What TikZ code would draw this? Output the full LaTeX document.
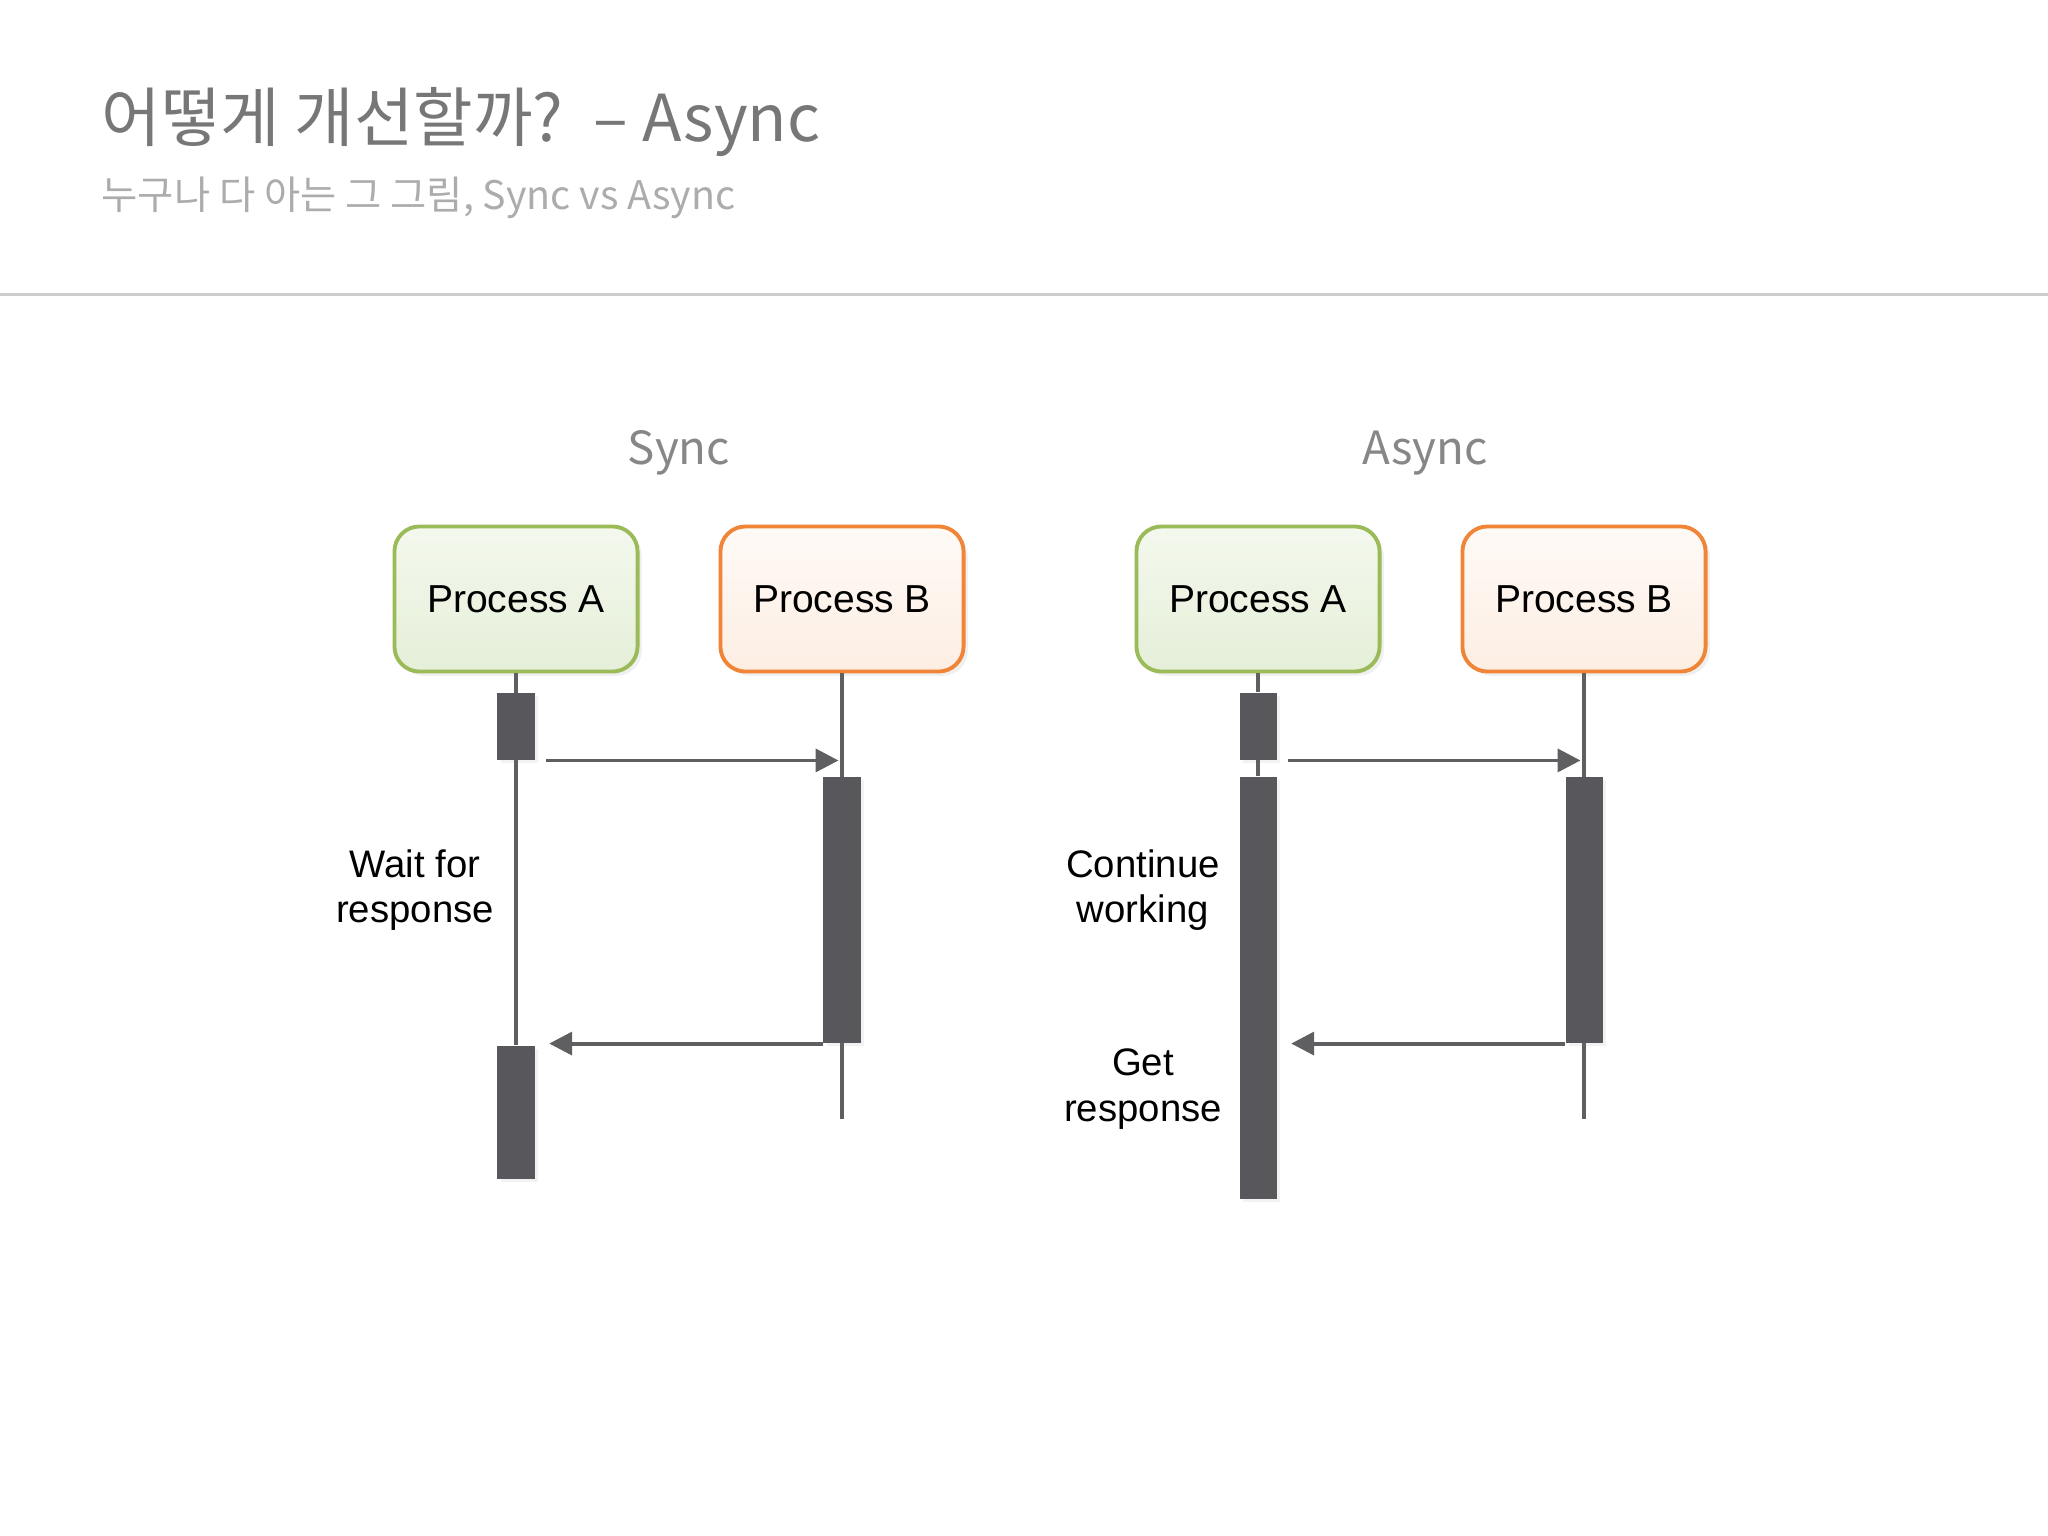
\documentclass[tikz,border=0pt]{standalone}
\usepackage{fontspec}
\setmainfont{Liberation Sans}
\newfontfamily\krfont{Noto Sans CJK KR}
\usetikzlibrary{positioning, arrows.meta, shadows}
\definecolor{cTitle}{RGB}{119,119,119}
\definecolor{cSub}{RGB}{172,172,172}
\definecolor{cHead}{RGB}{135,135,135}
\definecolor{cRule}{RGB}{204,204,204}
\definecolor{cGreen}{RGB}{155,187,89}
\definecolor{cGreenT}{RGB}{244,248,238}
\definecolor{cGreenB}{RGB}{229,239,216}
\definecolor{cOrange}{RGB}{240,133,55}
\definecolor{cOrangeT}{RGB}{254,250,246}
\definecolor{cOrangeB}{RGB}{253,238,227}
\definecolor{cBar}{RGB}{88,87,92}
\definecolor{cLine}{RGB}{95,95,98}

\begin{document}
\begin{tikzpicture}[x=0.01cm, y=-0.01cm,
    proc/.style={rounded corners=0.25cm, line width=1.1pt, minimum width=2.43cm,
                 minimum height=1.45cm, font=\fontsize{11.1}{13}\selectfont,
                 drop shadow={opacity=0.12, shadow xshift=1.2pt, shadow yshift=-1.2pt}},
    procA/.style={proc, draw=cGreen, top color=cGreenT, bottom color=cGreenB},
    procB/.style={proc, draw=cOrange, top color=cOrangeT, bottom color=cOrangeB},
    act/.style={fill=cBar, draw=none, minimum width=0.37cm, inner sep=0pt, anchor=north,
                drop shadow={opacity=0.1, shadow xshift=1pt, shadow yshift=-1pt}},
    life/.style={draw=cLine, line width=0.9pt},
    msg/.style={draw=cLine, line width=1.1pt, -{Triangle[length=6.5pt, width=6.5pt]}},
    note/.style={align=center, font=\fontsize{10.9}{13}\selectfont},
    head/.style={text=cHead, font=\krfont\fontsize{13}{16}\selectfont}]

    \useasboundingbox (0,0) rectangle (2048,1536);

    % Title
    \node[anchor=base west, inner sep=0pt, text=cTitle, font=\krfont\fontsize{18.4}{21}\selectfont]
        (title) at (101,141) {어떻게 개선할까? \,– Async};
    \node[anchor=base west, inner sep=0pt, text=cSub, font=\krfont\fontsize{11.2}{13}\selectfont]
        (subtitle) at (101,209) {누구나 다 아는 그 그림, Sync vs Async};
    \coordinate (ruleL) at (0,294);
    \coordinate (ruleR) at (2048,294);
    \draw[cRule, line width=0.85pt] (ruleL) -- (ruleR);

    % Sync
    \node[head] (syncHead) at (679,453) {Sync};
    \node[procA] (sA) at (516,599) {Process A};
    \node[procB] (sB) at (842,599) {Process B};
    \coordinate (sAend) at (516,1045);
    \coordinate (sBend) at (842,1119);
    \draw[life] (sA.south) -- (sAend);
    \draw[life] (sB.south) -- (sBend);
    \node[act, minimum height=0.67cm] (sA1) at (516,692) {};
    \node[act, minimum height=2.66cm] (sB1) at (842,776) {};
    \node[act, minimum height=1.33cm] (sA2) at (516,1045) {};
    \draw[msg, shorten >=1pt] ([xshift=1.1mm]sA1.south east) -- (sA1.south -| sB.south);
    \draw[msg, shorten >=1.4mm] (sB1.south west) -- (sB1.south west -| sA2.east);
    \node[note] (wait) at (415,890) {Wait for\\response};

    % Async
    \node[head] (asyncHead) at (1425,453) {Async};
    \node[procA] (aA) at (1258,599) {Process A};
    \node[procB] (aB) at (1584,599) {Process B};
    \coordinate (aBend) at (1584,1119);
    \draw[life] (aA.south) -- (aA.south |- sA1.north);
    \draw[life] (aB.south) -- (aBend);
    \node[act, minimum height=0.67cm] (aA1) at (1258,692) {};
    \node[act, minimum height=4.22cm] (aA2) at (1258,776) {};
    \node[act, minimum height=2.66cm] (aB1) at (1584,776) {};
    \draw[life] (aA1.south) -- (aA2.north);
    \draw[msg, shorten >=1pt] ([xshift=1.1mm]aA1.south east) -- (aA1.south -| aB.south);
    \draw[msg, shorten >=1.4mm] (aB1.south west) -- (aB1.south west -| aA2.east);
    \node[note] (cont) at (1143,890) {Continue\\working};
    \node[note] (get) at (1143,1089) {Get\\response};
\end{tikzpicture}
\end{document}
